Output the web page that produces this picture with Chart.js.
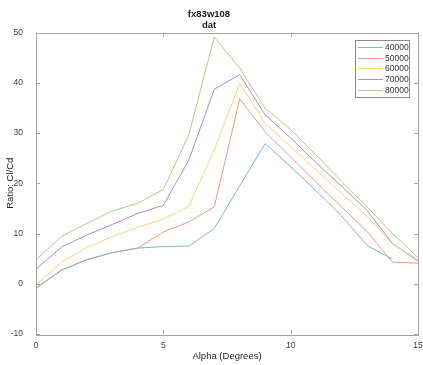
<!DOCTYPE html>
<html>
<head>
<meta charset="utf-8">
<script src="https://cdn.jsdelivr.net/npm/chart.js@4/dist/chart.umd.min.js"></script>
<style>
  html, body { margin: 0; padding: 0; background: #fff; }
  #wrap { width: 423px; height: 365px; }
</style>
</head>
<body>
<div id="wrap"><canvas id="ratioChart"></canvas></div>
<script>
// angle of attack (deg) and Cl/Cd per Reynolds number
const alpha = [0, 1, 2, 3, 4, 5, 6, 7, 8, 9, 10, 11, 12, 13, 14, 15];
const re40000 = [-0.9, 2.7, 4.8, 6.2, 7.1, 7.4, 7.5, 11.0, 19.5, 27.9, 23.3, 18.5, 13.5, 7.6, 4.9, null];
const re50000 = [-0.8, 2.7, 4.8, 6.2, 7.1, 10.3, 12.3, 15.3, 36.8, 30.2, 25.2, 20.2, 15.3, 10.4, 4.3, 4.1];
const re60000 = [-0.2, 4.3, 7.2, 9.4, 11.2, 12.9, 15.4, 26.6, 39.9, 31.9, 27.3, 22.6, 18.0, 13.4, 7.9, 4.8];
const re70000 = [2.9, 7.3, 9.7, 11.8, 14.0, 15.6, 24.6, 38.7, 41.6, 33.6, 29.0, 24.1, 19.4, 14.6, 8.0, 4.5];
const re80000 = [4.8, 9.4, 12.0, 14.5, 16.0, 18.8, 29.6, 49.1, 42.9, 34.9, 30.7, 25.6, 20.4, 15.3, 10.0, 5.2];

const seriesNames = ["40000", "50000", "60000", "70000", "80000"];
const seriesValues = [re40000, re50000, re60000, re70000, re80000];
const seriesColors = ["#7ab4e0", "#ee9a78", "#f8d277", "#b488c4", "#a8d080"];

const xTicks = [0, 5, 10, 15];
const yTicks = [-10, 0, 10, 20, 30, 40, 50];

const fontFamily = "'Liberation Sans', Arial, sans-serif";
const boxColor = "#a3a3a3";

function toPoints(values) {
  return alpha.map((a, i) => ({ x: a, y: values[i] }));
}

// axes box with inward ticks on all four sides
const boxPlugin = {
  id: "boxPlugin",
  afterDatasetsDraw(chart) {
    const { ctx, chartArea: a, scales } = chart;
    ctx.save();
    ctx.strokeStyle = boxColor;
    ctx.lineWidth = 1;
    ctx.beginPath();
    ctx.rect(Math.round(a.left) + 0.5, Math.round(a.top) + 0.5,
      Math.round(a.right - a.left), Math.round(a.bottom - a.top));
    ctx.stroke();
    const len = 4;
    ctx.beginPath();
    xTicks.forEach(v => {
      const px = Math.round(scales.x.getPixelForValue(v)) + 0.5;
      ctx.moveTo(px, a.bottom); ctx.lineTo(px, a.bottom - len);
      ctx.moveTo(px, a.top); ctx.lineTo(px, a.top + len);
    });
    yTicks.forEach(v => {
      const py = Math.round(scales.y.getPixelForValue(v)) + 0.5;
      ctx.moveTo(a.left, py); ctx.lineTo(a.left + len, py);
      ctx.moveTo(a.right, py); ctx.lineTo(a.right - len, py);
    });
    ctx.stroke();
    ctx.restore();
  }
};

// legend box in the upper right corner
const legendPlugin = {
  id: "legendPlugin",
  afterDraw(chart) {
    const { ctx, chartArea: a } = chart;
    const w = 54, rowH = 10.7;
    const x0 = a.right - 63, y0 = a.top + 7;
    const h = rowH * chart.data.datasets.length + 3;
    ctx.save();
    ctx.fillStyle = "#fff";
    ctx.fillRect(x0, y0, w, h);
    ctx.strokeStyle = "#8c8c8c";
    ctx.lineWidth = 1;
    ctx.strokeRect(Math.round(x0) + 0.5, Math.round(y0) + 0.5, w, Math.round(h));
    ctx.font = "8.5px " + fontFamily;
    ctx.textBaseline = "middle";
    chart.data.datasets.forEach((ds, i) => {
      const cy = Math.round(y0 + 7.5 + i * rowH) + 0.5;
      ctx.strokeStyle = ds.borderColor;
      ctx.beginPath();
      ctx.moveTo(x0 + 3, cy);
      ctx.lineTo(x0 + 28, cy);
      ctx.stroke();
      ctx.fillStyle = "#333";
      ctx.fillText(ds.label, x0 + 30, cy);
    });
    ctx.restore();
  }
};

new Chart(document.getElementById("ratioChart"), {
  type: "line",
  data: {
    datasets: seriesNames.map((name, i) => ({
      label: name,
      data: toPoints(seriesValues[i]),
      borderColor: seriesColors[i],
      borderWidth: 1,
      pointRadius: 0,
      tension: 0,
      spanGaps: false
    }))
  },
  options: {
    responsive: true,
    maintainAspectRatio: false,
    animation: false,
    layout: { padding: { left: 0, right: 5, top: 0, bottom: 0 } },
    plugins: {
      legend: { display: false },
      tooltip: { enabled: false },
      title: {
        display: true,
        text: "fx83w108",
        color: "#1a1a1a",
        font: { family: fontFamily, size: 9.5, weight: "bold", lineHeight: 1.1 },
        padding: { top: 9, bottom: 0 }
      },
      subtitle: {
        display: true,
        text: "dat",
        color: "#1a1a1a",
        font: { family: fontFamily, size: 9.5, weight: "bold", lineHeight: 1.1 },
        padding: { top: 1, bottom: 1.6 }
      }
    },
    scales: {
      x: {
        type: "linear",
        min: 0,
        max: 15,
        grid: { display: false },
        border: { display: false },
        ticks: {
          stepSize: 5,
          padding: -1,
          color: "#404040",
          font: { family: fontFamily, size: 8.5 },
          maxRotation: 0
        },
        title: {
          display: true,
          text: "Alpha (Degrees)",
          color: "#262626",
          font: { family: fontFamily, size: 9.5 },
          padding: { top: 0, bottom: 3 }
        },
        afterFit(scale) {
          scale.height = 31;
          scale.paddingLeft = 0;
          scale.paddingRight = 0;
        }
      },
      y: {
        type: "linear",
        min: -10,
        max: 50,
        grid: { display: false },
        border: { display: false },
        ticks: {
          stepSize: 10,
          padding: 5,
          color: "#404040",
          font: { family: fontFamily, size: 8.5 }
        },
        title: {
          display: true,
          text: "Ratio: Cl/Cd",
          color: "#262626",
          font: { family: fontFamily, size: 9.5, lineHeight: 1.2 },
          padding: { top: 5, bottom: 0 }
        },
        afterFit(scale) {
          scale.width = 36;
        }
      }
    }
  },
  plugins: [boxPlugin, legendPlugin]
});
</script>
</body>
</html>
